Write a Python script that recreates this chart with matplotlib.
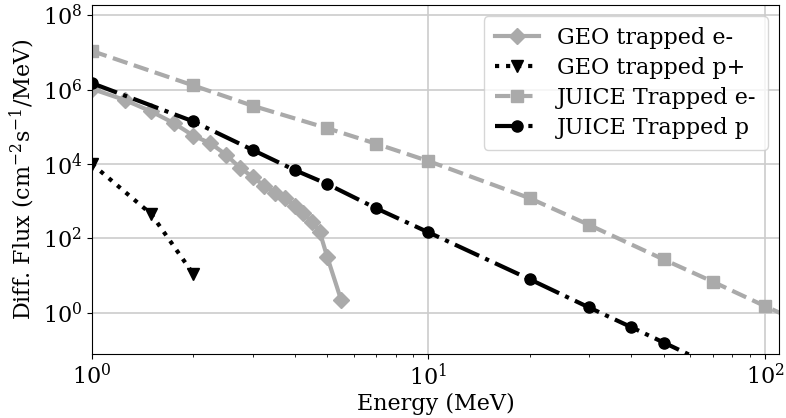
import numpy as np
import matplotlib.pyplot as plt
from matplotlib.ticker import NullLocator

plt.rcParams['font.family'] = 'DejaVu Serif'
plt.rcParams['mathtext.fontset'] = 'dejavuserif'

# GEO trapped electrons
geo_e_energy = [1.0, 1.25, 1.5, 1.75, 2.0, 2.25, 2.5, 2.75, 3.0, 3.25, 3.5,
                3.75, 4.0, 4.25, 4.5, 4.75, 5.0, 5.5]
geo_e_flux = [1.05e6, 5.3e5, 2.6e5, 1.26e5, 5.8e4, 3.6e4, 1.8e4, 8.0e3, 4.5e3,
              2.6e3, 1.7e3, 1.2e3, 740, 470, 280, 150, 32, 2.2]

# GEO trapped protons
geo_p_energy = [1.0, 1.5, 2.0]
geo_p_flux = [1.0e4, 450, 11]

# JUICE trapped electrons
juice_e_energy = [1, 2, 3, 5, 7, 10, 20, 30, 50, 70, 100, 200]
juice_e_flux = [1.1e7, 1.3e6, 3.7e5, 9.2e4, 3.5e4, 1.2e4, 1.2e3, 230, 27, 6.8,
                1.5, 0.087]

# JUICE trapped protons
juice_p_energy = [1, 2, 3, 4, 5, 7, 10, 20, 30, 40, 50, 70]
juice_p_flux = [1.5e6, 1.4e5, 2.4e4, 6.9e3, 2.9e3, 640, 145, 7.9, 1.38, 0.41,
                0.157, 0.037]

grey = '#aaaaaa'

fig = plt.figure(figsize=(7.86, 4.18), dpi=100)
ax = fig.add_axes([0.117, 0.153, 0.874, 0.835])

ax.plot(geo_e_energy, geo_e_flux, '-', color=grey, marker='D', ms=8, lw=3,
        label='GEO trapped e-')
ax.plot(geo_p_energy, geo_p_flux, ':', color='black', marker='v', ms=9, lw=3,
        label='GEO trapped p+')
ax.plot(juice_e_energy, juice_e_flux, '--', color=grey, marker='s', ms=8, lw=3,
        label='JUICE Trapped e-')
ax.plot(juice_p_energy, juice_p_flux, '-.', color='black', marker='o', ms=8,
        lw=3, label='JUICE Trapped p')

ax.set_xscale('log')
ax.set_yscale('log')
ax.set_xlim(1, 110)
ax.set_ylim(0.077, 1.9e8)
ax.set_yticks([1e0, 1e2, 1e4, 1e6, 1e8])
ax.yaxis.set_minor_locator(NullLocator())
ax.grid(True, which='major', color='#cccccc', lw=1.2)
ax.tick_params(labelsize=16)

ax.set_xlabel('Energy (MeV)', fontsize=16, labelpad=2)
ax.set_ylabel(r'Diff. Flux (cm$^{-2}$s$^{-1}$/MeV)', fontsize=16, labelpad=4)
ax.legend(loc='upper right', fontsize=16, handlelength=2, borderpad=0.5,
          labelspacing=0.35)

fig.savefig('out.png', dpi=100)
